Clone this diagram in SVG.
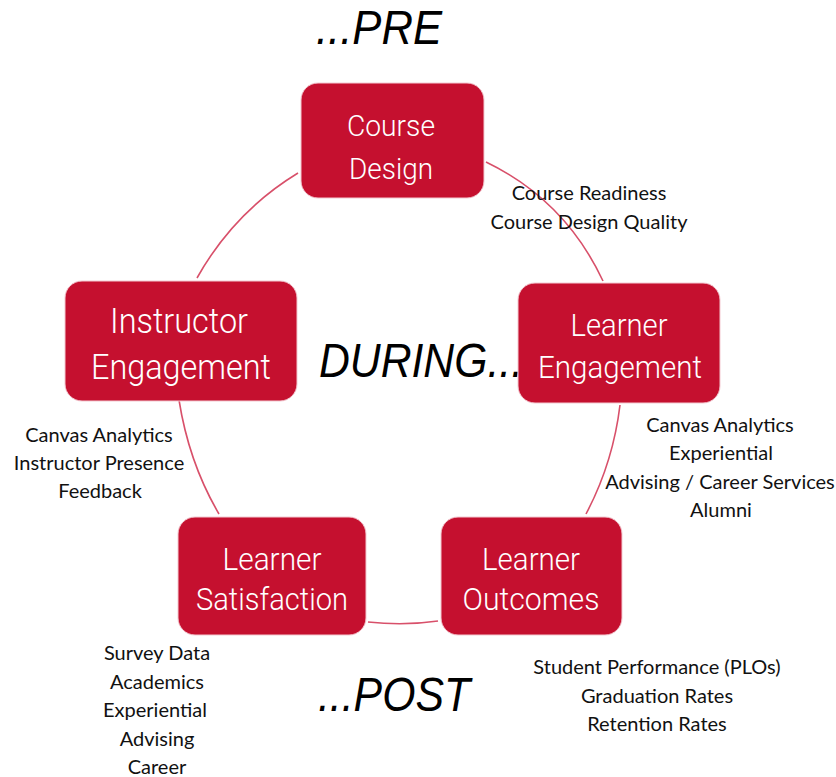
<svg xmlns="http://www.w3.org/2000/svg" width="836" height="777" viewBox="0 0 836 777">
  <style>
    .arc { fill: none; stroke: #D8506A; stroke-width: 1.6; }
    .box { fill: #C5102F; stroke: #F3C9D1; stroke-width: 1; }
    .bt { fill: #FFFFFF; font-family: Roboto, "Liberation Sans", sans-serif; font-weight: 300; text-anchor: middle; }
    .lbl { fill: #111111; font-family: Lato, "Liberation Sans", sans-serif; font-size: 20px; text-anchor: middle; }
    .phase { fill: #000000; font-family: "Liberation Sans", Arial, sans-serif; font-style: italic; font-size: 48px; }
  </style>

  <!-- cycle connectors -->
  <g id="connectors">
    <path class="arc" d="M298,173 Q234,212 197,278"/>
    <path class="arc" d="M486,162 Q565,200 603,281"/>
    <path class="arc" d="M620,405 Q613,463 586,514"/>
    <path class="arc" d="M438,621 Q404,626 368,622"/>
    <path class="arc" d="M219,514 Q189,463 179,400"/>
  </g>

  <!-- phase labels -->
  <text class="phase" x="316" y="44" textLength="126" lengthAdjust="spacingAndGlyphs">...PRE</text>
  <text class="phase" x="319" y="377" textLength="204" lengthAdjust="spacingAndGlyphs">DURING...</text>
  <text class="phase" x="318" y="711" textLength="152" lengthAdjust="spacingAndGlyphs">...POST</text>

  <g id="course-design">
    <rect class="box" x="301" y="83" width="183" height="115" rx="17"/>
    <text class="bt" x="391" y="136" font-size="30" textLength="88" lengthAdjust="spacingAndGlyphs">Course</text>
    <text class="bt" x="391" y="179" font-size="30" textLength="84" lengthAdjust="spacingAndGlyphs">Design</text>
  </g>

  <g id="learner-engagement">
    <rect class="box" x="518" y="283" width="202" height="120" rx="17"/>
    <text class="bt" x="619" y="336" font-size="31" textLength="97" lengthAdjust="spacingAndGlyphs">Learner</text>
    <text class="bt" x="620" y="378" font-size="31" textLength="164" lengthAdjust="spacingAndGlyphs">Engagement</text>
  </g>

  <g id="learner-outcomes">
    <rect class="box" x="441" y="517" width="181" height="118" rx="17"/>
    <text class="bt" x="531" y="570" font-size="31" textLength="98" lengthAdjust="spacingAndGlyphs">Learner</text>
    <text class="bt" x="531" y="610" font-size="31" textLength="137" lengthAdjust="spacingAndGlyphs">Outcomes</text>
  </g>

  <g id="learner-satisfaction">
    <rect class="box" x="178" y="517" width="188" height="118" rx="17"/>
    <text class="bt" x="272" y="570" font-size="31" textLength="99" lengthAdjust="spacingAndGlyphs">Learner</text>
    <text class="bt" x="272" y="610" font-size="31" textLength="152" lengthAdjust="spacingAndGlyphs">Satisfaction</text>
  </g>

  <g id="instructor-engagement">
    <rect class="box" x="65" y="281" width="232" height="120" rx="17"/>
    <text class="bt" x="179" y="333" font-size="35" textLength="138" lengthAdjust="spacingAndGlyphs">Instructor</text>
    <text class="bt" x="181" y="379" font-size="35" textLength="180" lengthAdjust="spacingAndGlyphs">Engagement</text>
  </g>

  <!-- data sources per stage -->
  <g id="course-design-notes">
    <text class="lbl" x="589" y="200">Course Readiness</text>
    <text class="lbl" x="589" y="229">Course Design Quality</text>
  </g>
  <g id="learner-engagement-notes">
    <text class="lbl" x="720" y="432">Canvas Analytics</text>
    <text class="lbl" x="721" y="460">Experiential</text>
    <text class="lbl" x="720" y="489">Advising / Career Services</text>
    <text class="lbl" x="721" y="517">Alumni</text>
  </g>
  <g id="learner-outcomes-notes">
    <text class="lbl" x="657" y="674">Student Performance (PLOs)</text>
    <text class="lbl" x="657" y="703">Graduation Rates</text>
    <text class="lbl" x="657" y="731">Retention Rates</text>
  </g>
  <g id="learner-satisfaction-notes">
    <text class="lbl" x="157" y="660">Survey Data</text>
    <text class="lbl" x="157" y="689">Academics</text>
    <text class="lbl" x="155" y="717">Experiential</text>
    <text class="lbl" x="157" y="746">Advising</text>
    <text class="lbl" x="157" y="774">Career</text>
  </g>
  <g id="instructor-engagement-notes">
    <text class="lbl" x="99" y="442">Canvas Analytics</text>
    <text class="lbl" x="99" y="470">Instructor Presence</text>
    <text class="lbl" x="100" y="498">Feedback</text>
  </g>
</svg>
